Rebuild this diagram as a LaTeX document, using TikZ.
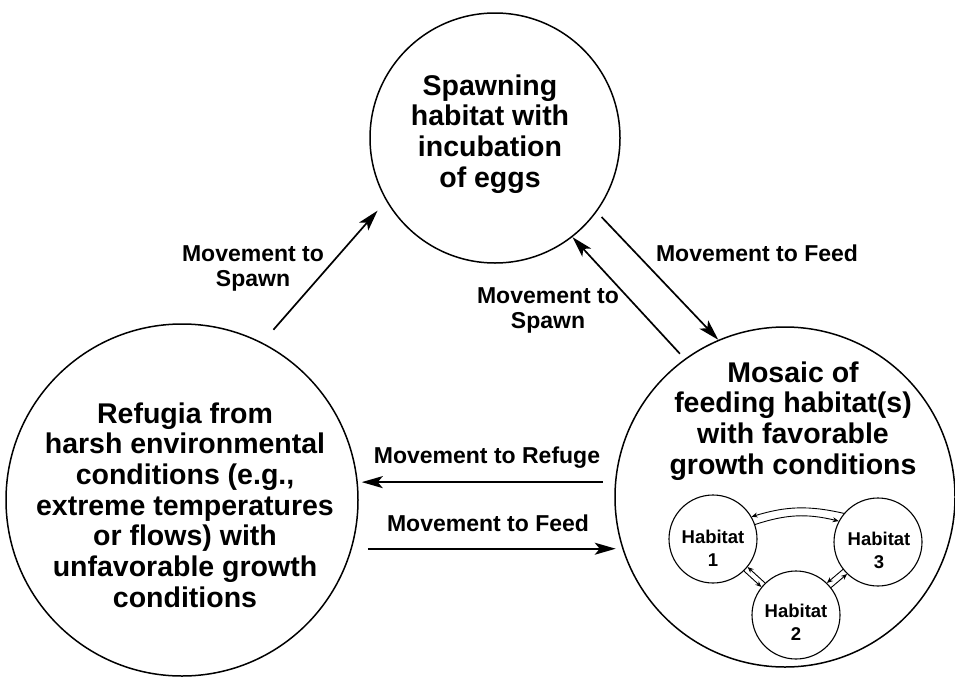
\documentclass[tikz,border=0pt]{standalone}
\usepackage{fontspec}
\setsansfont{Liberation Sans}
\usetikzlibrary{arrows.meta}

\begin{document}
\begin{tikzpicture}[x=1pt, y=-1pt, line join=round,
    every node/.style={align=center, inner sep=0pt},
    bigcirc/.style={circle, draw, line width=1.5pt},
    smallcirc/.style={circle, draw, line width=1.1pt, minimum size=88pt},
    bigtext/.style={font=\sffamily\bfseries\fontsize{28.5}{30.7}\selectfont},
    movetext/.style={font=\sffamily\bfseries\fontsize{23}{25}\selectfont},
    smalltext/.style={font=\sffamily\bfseries\fontsize{18.5}{23}\selectfont},
    bigarrow/.style={line width=1.7pt, -{Stealth[length=21pt, width=12pt, inset=5pt]}},
    smallarrow/.style={line width=0.9pt, -{Stealth[length=6pt, width=5pt]}}]
	\useasboundingbox (0,0) rectangle (955,680);

	% Circles
	\node[bigcirc, minimum size=250pt] (spawn) at (495,138) {};
	\node[bigcirc, minimum size=352pt] (refuge) at (182,500) {};
	\node[bigcirc, minimum size=340pt] (mosaic) at (785,497) {};

	% Circle texts
	\node[bigtext] (spawntext) at (490,134) {Spawning\\habitat with\\incubation\\of eggs};
	\node[bigtext] (refugetext) at (185,505) {Refugia from\\harsh environmental\\conditions (e.g.,\\extreme temperatures\\or flows) with\\unfavorable growth\\conditions};
	\node[bigtext] (mosaictext) at (793,421) {Mosaic of\\feeding habitat(s)\\with favorable\\growth conditions};

	% Feeding habitats
	\node[smallcirc] (hab1) at (713,539) {};
	\node[smallcirc] (hab2) at (796,615) {};
	\node[smallcirc] (hab3) at (878,542) {};
	\node[smalltext] (hab1text) at (713,548) {Habitat\\1};
	\node[smalltext] (hab2text) at (796,622) {Habitat\\2};
	\node[smalltext] (hab3text) at (879,550) {Habitat\\3};

	% Movement between feeding habitats
	\draw[smallarrow] (hab3.140) to[bend right=15] (hab1.30);
	\draw[smallarrow] (hab1.19) to[bend left=16] (hab3.152);
	\draw[smallarrow] (hab2.134) -- (hab1.-39);
	\draw[smallarrow] (hab1.-46) -- (hab2.141);
	\draw[smallarrow] (hab3.218) -- (hab2.46);
	\draw[smallarrow] (hab2.38) -- (hab3.226);

	% Movement between circles
	\draw[bigarrow, shorten <=17pt, shorten >=13pt] (refuge.63) -- (spawn.210);
	\draw[bigarrow, shorten <=7pt] (spawn.-36) -- (mosaic.113);
	\draw[bigarrow, shorten <=7pt] (mosaic.126) -- (spawn.-52);
	\draw[bigarrow, shorten <=12pt, shorten >=4pt] (mosaic.175) -- (refuge.6 |- mosaic.175);
	\draw[bigarrow, shorten <=16pt, shorten >=6pt] (refuge.-16) -- (mosaic.197 |- refuge.-16);

	% Movement labels
	\node[movetext] (spawnlab1) at (253,268) {Movement to\\Spawn};
	\node[movetext] (spawnlab2) at (548,310) {Movement to\\Spawn};
	\node[movetext] (feedlab1) at (757,253) {Movement to Feed};
	\node[movetext] (refugelab) at (487,458) {Movement to Refuge};
	\node[movetext] (feedlab2) at (488,523) {Movement to Feed};
\end{tikzpicture}
\end{document}
